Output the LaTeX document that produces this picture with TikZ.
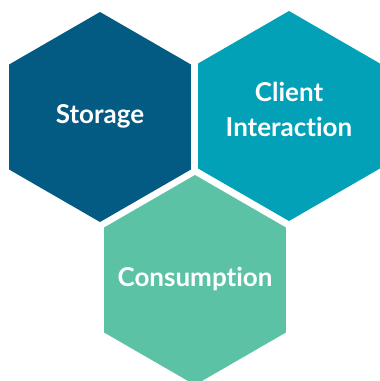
\documentclass[tikz,border=0pt]{standalone}
\usepackage{fontspec}
\setmainfont{Lato}[RawFeature=-liga]
\usetikzlibrary{shapes.geometric}
\definecolor{storageblue}{HTML}{035A82}
\definecolor{clientteal}{HTML}{02A1B7}
\definecolor{consumegreen}{HTML}{5CC2A5}
\begin{document}
\begin{tikzpicture}[x=1pt, y=-1pt,
    hexa/.style={regular polygon, regular polygon sides=6, shape border rotate=30,
        minimum size=210pt, inner sep=0pt, outer sep=0pt},
    hexlabel/.style={text=white, align=center,
        font=\fontsize{26}{35}\selectfont\bfseries}]
\useasboundingbox (0, 0) rectangle (380, 381);

\node[hexa, fill=storageblue] (storage) at (100, 117) {};
\node[hexa, fill=clientteal] (client) at (289, 116) {};
\node[hexa, fill=consumegreen] (consumption) at (195, 280) {};

\node[hexlabel] (storage text) at (100, 116) {Storage};
\node[hexlabel] (client text) at (289, 109) {Client\\Interaction};
\node[hexlabel] (consumption text) at (195, 279) {Consumption};
\end{tikzpicture}
\end{document}
